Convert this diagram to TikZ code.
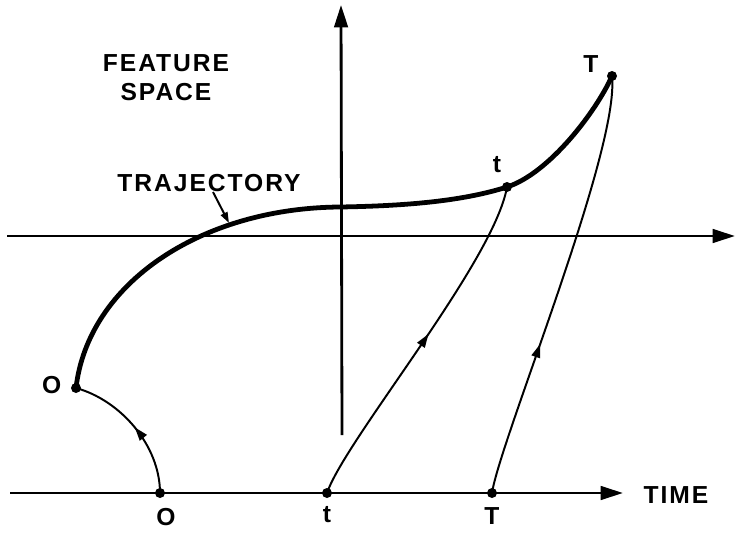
\documentclass[tikz,border=0pt]{standalone}
\usepackage{fontspec}
\setmainfont{Liberation Sans}[LetterSpace=8]
\usetikzlibrary{arrows.meta,positioning,decorations.markings}

\begin{document}
\begin{tikzpicture}[
			x=0.025cm, y=-0.025cm,
			every node/.style={font=\fontsize{17.5}{20.5}\selectfont\bfseries},
			lbl/.style={inner sep=0pt},
			dot/.style={circle, fill, inner sep=0pt, minimum size=0.25cm},
			axis/.style={line width=2pt, -{Triangle[length=0.56cm, width=0.34cm]}},
			traj/.style={line width=3.4pt},
			flow/.style={
				line width=1.4pt,
				postaction={decorate},
				decoration={markings,
					mark=at position #1 with {\arrow{Triangle[length=0.34cm, width=0.22cm]}}}
			},
			pointer/.style={line width=1.4pt, -{Triangle[length=0.27cm, width=0.18cm]}}
			]
			
			\useasboundingbox (0,0) rectangle (737,534);
			
			% ---- Axes ----
			\coordinate (vb) at (342,435);
			\coordinate (vt) at (341,5);
			\coordinate (fl) at (7,236);
			\coordinate (fr) at (735,236);
			\coordinate (tl) at (10,493);
			\coordinate (tend) at (623,493);
			\draw[axis] (vb) -- (vt);
			\draw[axis] (fl) -- (fr);
			\draw[axis] (tl) -- (tend);
			
			% ---- Time axis points ----
			\node[dot] (o0) at (160,493) {};
			\node[dot] (t0) at (327,493) {};
			\node[dot] (T0) at (492,493) {};
			\node[lbl, below=0.25cm of o0, xshift=0.15cm] (lo0) {O};
			\node[lbl, below=0.2cm of t0] (lt0) {t};
			\node[lbl, below=0.23cm of T0] (lT0) {T};
			
			% ---- Trajectory points ----
			\node[dot] (o1) at (76,388) {};
			\node[dot] (t1) at (507,187) {};
			\node[dot] (T1) at (612,76) {};
			\node[lbl, left=0.23cm of o1, yshift=0.07cm] (lo1) {O};
			\node[lbl, above=0.23cm of t1, xshift=-0.25cm] (lt1) {t};
			\node[lbl, left=0.2cm of T1, yshift=0.3cm] (lT1) {T};
			
			% ---- Trajectory ----
			\coordinate (mid) at (340,207);
			\draw[traj] (o1.center) .. controls (88,284) and (200,208) .. (mid)
			.. controls (400,206) and (460,202) .. (t1.center)
			.. controls (550,173) and (597,110) .. (T1.center);
			
			% ---- Mappings ----
			\draw[flow=0.5] (o0.center) .. controls (160,445) and (120,400) .. (o1.center);
			\draw[flow=0.53] (t0.center) .. controls (345,440) and (494,262) .. (t1.center);
			\draw[flow=0.36] (T0.center) .. controls (500,440) and (620,150) .. (T1.center);
			
			% ---- Texts ----
			\node[lbl, align=center] (space) at (166,78) {FEATURE\\SPACE};
			\node[lbl] (trajname) at (209,183) {TRAJECTORY};
			\node[lbl] (time) at (676,495) {TIME};
			\coordinate (trajpt) at (229,223);
			\draw[pointer] ([xshift=0.1cm]trajname.south) -- (trajpt);
			
		\end{tikzpicture}
\end{document}
